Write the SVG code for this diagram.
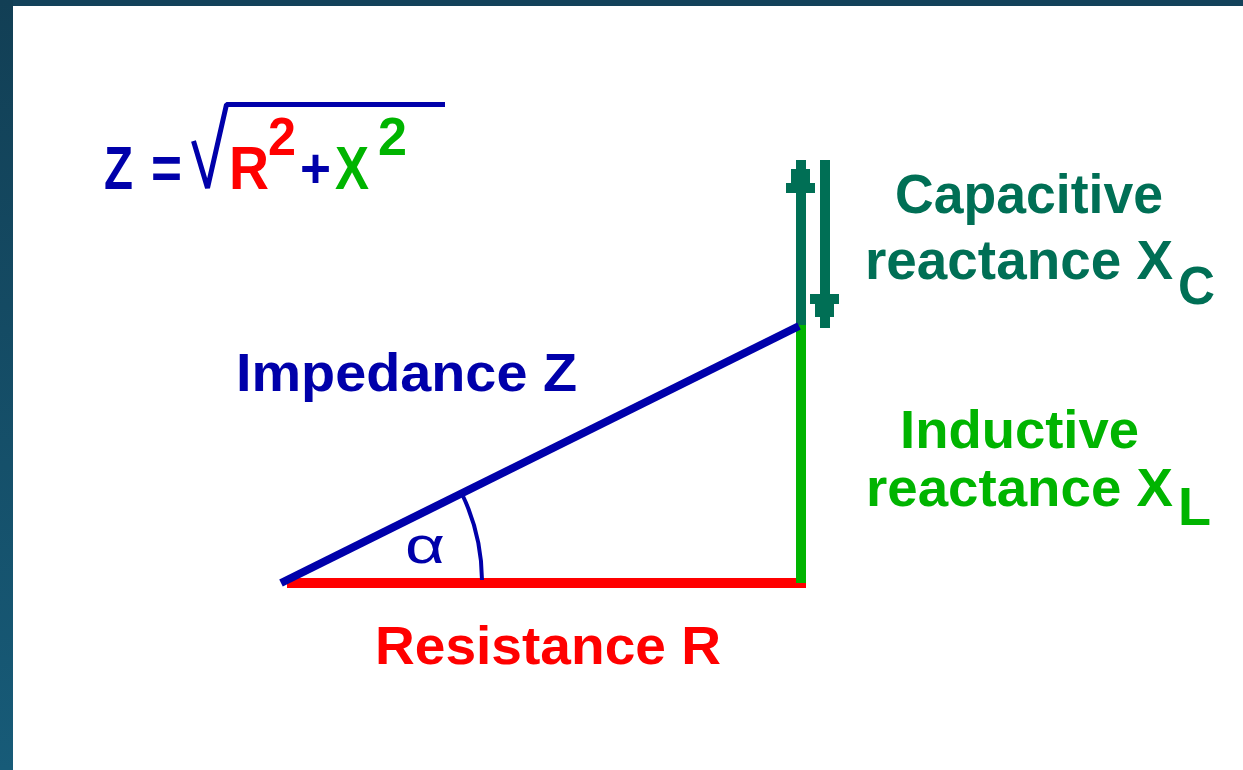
<svg xmlns="http://www.w3.org/2000/svg" width="1243" height="770" viewBox="0 0 1243 770">
<defs>
<linearGradient id="side" x1="0" y1="0" x2="0" y2="1">
<stop offset="0" stop-color="#123f55"/>
<stop offset="1" stop-color="#175b78"/>
</linearGradient>
<style>
.t{font-family:"Liberation Sans",Arial,sans-serif;font-weight:bold;}
.blue{fill:#0000aa;}
.red{fill:#ff0000;}
.green{fill:#00b400;}
.teal{fill:#006f55;}
</style>
</defs>
<rect x="0" y="0" width="1243" height="770" fill="#ffffff"/>
<rect x="0" y="0" width="1243" height="6" fill="#13425a"/>
<rect x="0" y="0" width="13" height="770" fill="url(#side)"/>

<g id="connectors">
<rect id="resistance-line" x="287" y="578" width="519" height="10" fill="#ff0000"/>
<rect id="capacitive-up-shaft" x="796" y="190" width="10" height="136" fill="#006f55"/>
<path id="capacitive-up-head" d="M796 160H806V169H810V183H815V193H786V183H791V169H796Z" fill="#006f55"/>
<rect id="capacitive-down-shaft" x="820" y="160" width="10" height="136" fill="#006f55"/>
<path id="capacitive-down-head" d="M810 294H839V304H834V317H830V328H820V317H815V304H810Z" fill="#006f55"/>
<rect id="inductive-line" x="796" y="325" width="10" height="258" fill="#00b400"/>
<line id="impedance-line" x1="281" y1="583" x2="799" y2="326" stroke="#0000aa" stroke-width="8"/>
<path id="angle-arc" d="M462 494 A201 201 0 0 1 482 580" fill="none" stroke="#0000aa" stroke-width="4"/>
</g>

<g id="formula">
<text class="t blue" x="104" y="189" font-size="61" textLength="29" lengthAdjust="spacingAndGlyphs">Z</text>
<text class="t blue" x="151" y="189" font-size="61" textLength="31" lengthAdjust="spacingAndGlyphs">=</text>
<polyline points="193.5,141 207.5,188 226.5,104.5 445,104.5" fill="none" stroke="#0000aa" stroke-width="5" stroke-linejoin="bevel"/>
<text class="t red" x="229" y="189" font-size="61" textLength="40" lengthAdjust="spacingAndGlyphs">R</text>
<text class="t red" x="268" y="155" font-size="53" textLength="28" lengthAdjust="spacingAndGlyphs">2</text>
<text class="t blue" x="300" y="187" font-size="56" textLength="31" lengthAdjust="spacingAndGlyphs">+</text>
<text class="t green" x="335" y="189" font-size="61" textLength="34" lengthAdjust="spacingAndGlyphs">X</text>
<text class="t green" x="378" y="155" font-size="53" textLength="29" lengthAdjust="spacingAndGlyphs">2</text>
</g>

<g id="label-impedance">
<text class="t blue" x="236" y="391" font-size="54" textLength="341" lengthAdjust="spacingAndGlyphs">Impedance Z</text>
</g>

<g id="label-capacitive">
<text class="t teal" x="895" y="213" font-size="55" textLength="268" lengthAdjust="spacingAndGlyphs">Capacitive</text>
<text class="t teal" x="865" y="279" font-size="55" textLength="308" lengthAdjust="spacingAndGlyphs">reactance X</text>
<text class="t teal" x="1178" y="304" font-size="53" textLength="37" lengthAdjust="spacingAndGlyphs">C</text>
</g>

<g id="label-inductive">
<text class="t green" x="900" y="448" font-size="53" textLength="239" lengthAdjust="spacingAndGlyphs">Inductive</text>
<text class="t green" x="866" y="506" font-size="53" textLength="307" lengthAdjust="spacingAndGlyphs">reactance X</text>
<text class="t green" x="1178" y="525" font-size="53" textLength="33" lengthAdjust="spacingAndGlyphs">L</text>
</g>

<g id="label-resistance">
<text class="t red" x="375" y="664" font-size="53" textLength="346" lengthAdjust="spacingAndGlyphs">Resistance R</text>
</g>

<g id="label-alpha">
<text class="blue" x="405" y="563" font-family="'Liberation Sans',Arial,sans-serif" font-size="52" textLength="40" lengthAdjust="spacingAndGlyphs">α</text>
</g>
</svg>
